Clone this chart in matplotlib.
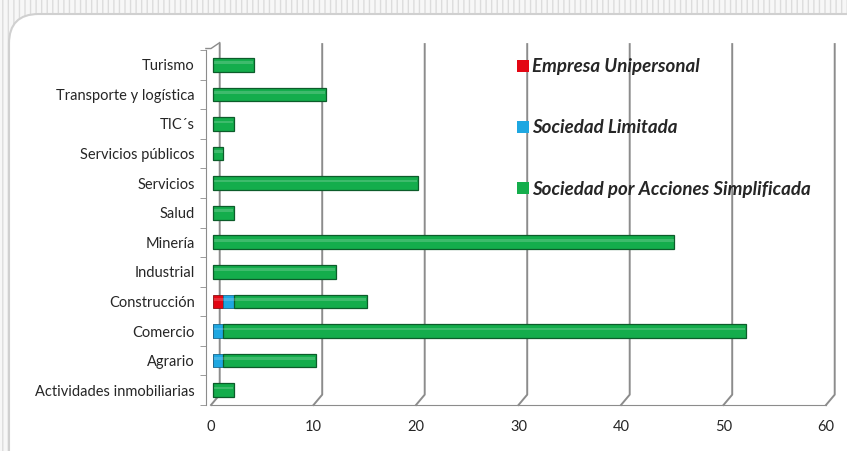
import matplotlib.pyplot as plt
from matplotlib.patches import FancyBboxPatch, Rectangle
import numpy as np

# Data
categories = ['Actividades inmobiliarias', 'Agrario', 'Comercio', 'Construcción',
              'Industrial', 'Minería', 'Salud', 'Servicios', 'Servicios públicos',
              'TIC´s', 'Transporte y logística', 'Turismo']
empresa_unipersonal = [0, 0, 0, 1, 0, 0, 0, 0, 0, 0, 0, 0]
sociedad_limitada = [0, 1, 1, 1, 0, 0, 0, 0, 0, 0, 0, 0]
sociedad_sas = [2, 9, 51, 13, 12, 45, 2, 20, 1, 2, 11, 4]
series_names = ['Empresa Unipersonal', 'Sociedad Limitada', 'Sociedad por Acciones Simplificada']
xticks = [0, 10, 20, 30, 40, 50, 60]

plt.rcParams['font.family'] = ['Lato', 'DejaVu Sans']

W, H = 847, 451
fig = plt.figure(figsize=(W / 100, H / 100), dpi=100)
fig.patch.set_facecolor('#f7f7f7')

# striped background + rounded white panel
bg = Rectangle((0, 0), 1, 1, transform=fig.transFigure, facecolor='#f7f7f7',
               edgecolor='#dcdcdc', hatch='|||', linewidth=0, zorder=-10)
fig.patches.append(bg)
panel = FancyBboxPatch((9 / W, -40 / H), 880 / W, (H - 14 + 40) / H,
                       boxstyle='round,pad=0,rounding_size=0.035',
                       transform=fig.transFigure, facecolor='white',
                       edgecolor='#d0d0d0', linewidth=1.5, zorder=-5,
                       mutation_aspect=W / H)
fig.patches.append(panel)

ax = fig.add_axes([211 / W, 1 - 405 / H, 615 / W, 355 / H])
ax.set_facecolor('none')

y = np.arange(len(categories))
eu = np.array(empresa_unipersonal)
sl = np.array(sociedad_limitada)
sas = np.array(sociedad_sas)

h = 0.46
x0 = 0.2
b1 = ax.barh(y, eu, left=x0, height=h, color='#e30613', edgecolor='#8a1010', linewidth=0.6, zorder=3)
b2 = ax.barh(y, sl, left=x0 + eu, height=h, color='#1ea7e1', edgecolor='#1a6a90', linewidth=0.6, zorder=3)
b3 = ax.barh(y, sas, left=x0 + eu + sl, height=h, color='#14ad4c', edgecolor='#0c5c2a', linewidth=0.9, zorder=3)
# highlight stripe for a rounded look
tot = eu + sl + sas
ax.barh(y + 0.07, tot - 0.15, left=x0 + 0.08, height=0.09, color='white', alpha=0.18,
        linewidth=0, zorder=4)

ax.set_xlim(0, 60)
ax.set_ylim(-0.5, len(categories) - 0.5)

# back wall gridlines with 3D offset
dx = 0.85
ytop = len(categories) - 0.5 + 0.2
yback = -0.5 + 0.35
for xv in xticks:
    ax.plot([xv + dx, xv + dx, xv], [ytop, yback, -0.5], color='#8c8c8c',
            linewidth=1.4, zorder=1, clip_on=False)
ax.plot([-0.5, 0, dx], [ytop - 0.15, ytop - 0.15, ytop + 0.05], color='#8c8c8c',
        linewidth=1.0, zorder=1, clip_on=False)

for s in ['top', 'right']:
    ax.spines[s].set_visible(False)
ax.spines['left'].set_color('#8c8c8c')
ax.spines['bottom'].set_color('#8c8c8c')
ax.spines['left'].set_position(('data', -0.5))

ax.set_yticks(y)
ax.set_yticklabels(categories, fontsize=10.5, color='#262626')
ax.set_yticks(np.arange(-0.5, len(categories), 1), minor=True)
ax.tick_params(axis='y', which='major', length=0, pad=8)
ax.tick_params(axis='y', which='minor', length=4, color='#8c8c8c')
ax.set_xticks(xticks)
ax.tick_params(axis='x', length=0, pad=11, labelsize=10.5, labelcolor='#262626')

leg = ax.legend([b1, b2, b3], series_names, loc='upper left',
                bbox_to_anchor=(508 / W, 1 - 49 / H), bbox_transform=fig.transFigure,
                frameon=False, labelspacing=2.35, handlelength=0.6, handleheight=0.6,
                handletextpad=0.2, borderpad=0,
                prop={'weight': 'bold', 'style': 'italic', 'size': 13.5})
for hd in leg.legend_handles:
    hd.set_edgecolor('none')
for t in leg.get_texts():
    t.set_color('#262626')

fig.savefig('out.png', dpi=100)
